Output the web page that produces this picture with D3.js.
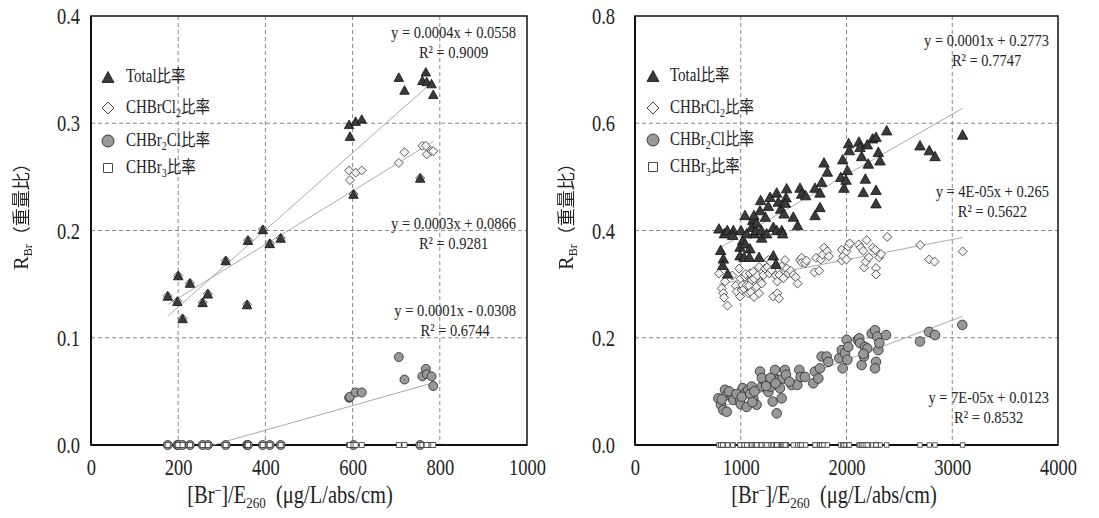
<!DOCTYPE html>
<html><head><meta charset="utf-8">
<script src="https://cdn.jsdelivr.net/npm/d3@7/dist/d3.min.js"></script>
<style>
html,body{margin:0;padding:0;background:#fff;}
svg{display:block;}
.ytitle{filter:grayscale(100%);}
</style></head>
<body>
<svg id="chart" width="1099" height="518"></svg>
<script>
// ---------------- DATA ----------------
const seriesNames = ["Total比率", "CHBrCl2比率", "CHBr2Cl比率", "CHBr3比率"];

// Left panel
const leftX        = [176,198,200,210,227,256,268,309,358,360,394,410,435,592,594,602,607,621,706,719,755,760,768,770,781,785];
const leftTotal    = [0.139,0.134,0.158,0.118,0.151,0.133,0.141,0.172,0.131,0.191,0.201,0.188,0.193,0.299,0.288,0.234,0.302,0.304,0.343,0.331,0.249,0.340,0.348,0.339,0.337,0.327];
const leftCHBrCl2  = [0.139,0.134,0.158,0.118,0.151,0.133,0.141,0.172,0.131,0.191,0.201,0.188,0.193,0.256,0.247,0.234,0.254,0.256,0.263,0.273,0.249,0.279,0.279,0.271,0.274,0.274];
const leftCHBr2Cl  = [0,0,0,0,0,0,0,0,0,0,0,0,0,0.044,0.045,0,0.049,0.049,0.082,0.061,0,0.064,0.071,0.066,0.064,0.055];
const leftCHBr3    = [0,0,0,0,0,0,0,0,0,0,0,0,0,0,0,0,0,0,0,0,0,0,0,0,0,0];
const leftXTicks   = [0,200,400,600,800,1000];
const leftYTicks   = [0,0.1,0.2,0.3,0.4];
// trendline end points [x0,y0,x1,y1]
const leftTrendTotal   = [176,0.120,785,0.339];
const leftTrendCHBrCl2 = [176,0.131,785,0.283];
const leftTrendCHBr2Cl = [280,0.000,785,0.058];
const leftEq = ["y = 0.0004x + 0.0558","y = 0.0003x + 0.0866","y = 0.0001x - 0.0308"];
const leftR2 = ["R² = 0.9009","R² = 0.9281","R² = 0.6744"];

// Right panel
const rightTotalX = [794,845,873,930,924,810,835,829,876,1002,1040,1018,993,1043,993,1031,1081,1087,1113,1125,1103,1128,1173,1144,1188,1182,1198,1195,1232,1261,1277,1308,1308,1333,1340,1355,1377,1340,1387,1396,1409,1434,1428,1422,1497,1538,1560,1576,1614,1702,1749,1702,1749,1765,1787,1819,1945,1964,1976,2008,1995,2020,2027,2118,2128,2143,2159,2178,2206,2247,2279,2197,2301,2317,2279,2279,2380,2695,2783,2837,3098,1056,1245,1150];
const rightTotalY = [0.404,0.395,0.401,0.401,0.392,0.364,0.348,0.336,0.320,0.401,0.429,0.382,0.370,0.376,0.354,0.351,0.351,0.367,0.420,0.429,0.407,0.395,0.351,0.401,0.457,0.438,0.387,0.401,0.426,0.446,0.463,0.407,0.354,0.338,0.471,0.454,0.441,0.401,0.401,0.395,0.432,0.479,0.462,0.452,0.426,0.410,0.480,0.469,0.466,0.429,0.444,0.480,0.471,0.491,0.527,0.510,0.500,0.533,0.480,0.513,0.495,0.563,0.550,0.566,0.556,0.539,0.472,0.497,0.525,0.572,0.575,0.561,0.547,0.531,0.476,0.451,0.587,0.559,0.550,0.539,0.579,0.395,0.395,0.415];
const rightCHBrCl2X = [794,820,835,842,851,874,921,953,961,984,993,1000,1009,1018,1032,1040,1047,1056,1072,1079,1087,1095,1103,1119,1126,1126,1150,1158,1173,1173,1189,1198,1214,1229,1252,1261,1270,1284,1292,1308,1331,1346,1346,1362,1365,1387,1403,1418,1434,1450,1473,1497,1520,1538,1560,1576,1576,1608,1621,1697,1712,1742,1758,1773,1788,1818,1833,1955,1955,1970,2000,2000,2015,2030,2115,2136,2158,2167,2182,2191,2212,2248,2273,2279,2279,2309,2327,2385,2697,2782,2833,3098];
const rightCHBrCl2Y = [0.320,0.292,0.283,0.275,0.305,0.260,0.316,0.297,0.286,0.329,0.277,0.310,0.289,0.298,0.291,0.314,0.319,0.298,0.283,0.297,0.320,0.285,0.308,0.323,0.310,0.276,0.295,0.316,0.283,0.332,0.304,0.301,0.317,0.329,0.332,0.345,0.320,0.341,0.326,0.277,0.316,0.283,0.305,0.273,0.317,0.333,0.311,0.345,0.329,0.320,0.325,0.317,0.313,0.301,0.345,0.349,0.340,0.339,0.344,0.322,0.349,0.325,0.346,0.355,0.368,0.361,0.352,0.344,0.364,0.352,0.361,0.346,0.370,0.376,0.374,0.368,0.362,0.331,0.342,0.382,0.350,0.368,0.364,0.330,0.318,0.350,0.356,0.388,0.373,0.346,0.342,0.361];
const rightCHBr2ClX = [788,813,835,867,851,867,914,930,993,1000,1018,1040,1056,1072,1103,1119,1150,1182,1198,1220,1245,1261,1283,1302,1308,1324,1340,1355,1371,1387,1396,1418,1428,1482,1535,1554,1566,1607,1686,1702,1734,1749,1765,1812,1828,1932,1955,1964,1986,2002,2008,2017,2106,2121,2128,2143,2165,2175,2197,2238,2270,2279,2270,2291,2301,2310,2374,2695,2780,2837,3095,820,890,960,1010,1090,1130,1200,1240,1280,1330,1460,1110,2160];
const rightCHBr2ClY = [0.087,0.075,0.065,0.062,0.103,0.093,0.093,0.084,0.084,0.076,0.106,0.096,0.071,0.103,0.109,0.087,0.075,0.137,0.109,0.121,0.121,0.099,0.109,0.081,0.127,0.140,0.059,0.121,0.106,0.087,0.124,0.140,0.131,0.112,0.112,0.140,0.127,0.127,0.115,0.137,0.124,0.143,0.165,0.165,0.155,0.162,0.177,0.143,0.171,0.196,0.159,0.183,0.196,0.199,0.190,0.149,0.165,0.183,0.180,0.208,0.214,0.155,0.143,0.202,0.177,0.190,0.205,0.193,0.211,0.205,0.224,0.085,0.100,0.095,0.090,0.095,0.100,0.125,0.110,0.125,0.115,0.118,0.080,0.170];
const rightCHBr3X = rightTotalX;
const rightCHBr3Y = rightTotalX.map(() => 0);
const rightXTicks = [0,1000,2000,3000,4000];
const rightYTicks = [0,0.2,0.4,0.6,0.8];
const rightTrendTotal   = [794,0.367,3098,0.628];
const rightTrendCHBrCl2 = [794,0.300,3098,0.387];
const rightTrendCHBr2Cl = [794,0.069,3098,0.240];
const rightEq = ["y = 0.0001x + 0.2773","y = 4E-05x + 0.265","y = 7E-05x + 0.0123"];
const rightR2 = ["R² = 0.7747","R² = 0.5622","R² = 0.8532"];

// ---------------- DRAWING ----------------
const SY = 1.2;            // vertical stretch of the glyphs
const SERIF = "'Liberation Serif','Times New Roman',serif";
const CJK = "'Noto Sans CJK JP','Noto Sans CJK SC',sans-serif";
const svg = d3.select("#chart");

function triPath(w,h){ return `M0,${-h/2}L${w/2},${h/2}L${-w/2},${h/2}Z`; }
function diaPath(w,h){ return `M0,${-h/2}L${w/2},0L0,${h/2}L${-w/2},0Z`; }
function sqPath(s){ return `M${-s/2},${-s/2}h${s}v${s}h${-s}Z`; }

const styles = {
  tri: {fill:"#3a3a3a", stroke:"#111", sw:0.8},
  dia: {fill:"#f2f2f2", stroke:"#333", sw:0.8},
  cir: {fill:"#989898", stroke:"#2a2a2a", sw:0.8},
  sq:  {fill:"#ffffff", stroke:"#333", sw:0.8}
};

function stretchedText(g, x, y, anchor, size){
  return g.append("text")
    .attr("transform", `translate(${x},${y}) scale(1,${SY})`)
    .attr("text-anchor", anchor)
    .style("font-family", SERIF)
    .style("font-size", size + "px")
    .attr("fill", "#222");
}

function drawPanel(cfg){
  const g = svg.append("g");
  const x = d3.scaleLinear().domain(cfg.xDomain).range([cfg.left, cfg.right]);
  const y = d3.scaleLinear().domain(cfg.yDomain).range([cfg.bottom, cfg.top]);

  // gridlines
  g.append("g").selectAll("line").data(cfg.xTicks.slice(1,-1)).join("line")
    .attr("x1", d=>x(d)).attr("x2", d=>x(d)).attr("y1", cfg.top).attr("y2", cfg.bottom)
    .attr("stroke","#7a7a7a").attr("stroke-width",0.9).attr("stroke-dasharray","4,3");
  g.append("g").selectAll("line").data(cfg.yTicks.slice(1,-1)).join("line")
    .attr("y1", d=>y(d)).attr("y2", d=>y(d)).attr("x1", cfg.left).attr("x2", cfg.right)
    .attr("stroke","#7a7a7a").attr("stroke-width",0.9).attr("stroke-dasharray","4,3");

  // border
  g.append("rect").attr("x",cfg.left).attr("y",cfg.top)
    .attr("width",cfg.right-cfg.left).attr("height",cfg.bottom-cfg.top)
    .attr("fill","none").attr("stroke","#111").attr("stroke-width",1.5);
  g.append("line").attr("x1",cfg.left).attr("x2",cfg.right).attr("y1",cfg.bottom).attr("y2",cfg.bottom)
    .attr("stroke","#111").attr("stroke-width",2.2);
  g.append("line").attr("x1",cfg.left).attr("x2",cfg.left).attr("y1",cfg.top).attr("y2",cfg.bottom)
    .attr("stroke","#111").attr("stroke-width",2);

  // axes (labels only)
  const xa = g.append("g").attr("transform",`translate(0,${cfg.bottom})`)
    .call(d3.axisBottom(x).tickValues(cfg.xTicks).tickSize(0).tickFormat(d3.format("d")));
  xa.select(".domain").remove();
  xa.selectAll("text").attr("y",0).attr("dy",0)
    .attr("transform",`translate(0,30) scale(1,${SY})`)
    .style("font-family",SERIF).style("font-size","18.5px").attr("fill","#222");
  const ya = g.append("g").attr("transform",`translate(${cfg.left},0)`)
    .call(d3.axisLeft(y).tickValues(cfg.yTicks).tickSize(0).tickFormat(d3.format(".1f")));
  ya.select(".domain").remove();
  ya.selectAll("text").attr("x",0).attr("dy",0)
    .attr("transform",`translate(${-cfg.yLabelGap},7.5) scale(1,${SY})`)
    .style("font-family",SERIF).style("font-size","18.5px").attr("fill","#222");

  // trendlines
  cfg.trends.forEach(t=>{
    g.append("line").attr("x1",x(t[0])).attr("y1",y(t[1])).attr("x2",x(t[2])).attr("y2",y(t[3]))
      .attr("stroke","#aaaaaa").attr("stroke-width",1);
  });

  // markers
  const m = cfg.marker;
  function pts(xs, ys){ return xs.map((v,i)=>[v, ys[i]]); }
  g.append("g").selectAll("path").data(pts(cfg.s2x, cfg.s2y)).join("path")
    .attr("d", diaPath(m.dia, m.dia)).attr("transform", d=>`translate(${x(d[0])},${y(d[1])})`)
    .attr("fill",styles.dia.fill).attr("stroke",styles.dia.stroke).attr("stroke-width",styles.dia.sw);
  g.append("g").selectAll("path").data(pts(cfg.s1x, cfg.s1y)).join("path")
    .attr("d", triPath(m.tri, m.tri*0.9)).attr("transform", d=>`translate(${x(d[0])},${y(d[1])})`)
    .attr("fill",styles.tri.fill).attr("stroke",styles.tri.stroke).attr("stroke-width",styles.tri.sw);
  g.append("g").selectAll("circle").data(pts(cfg.s3x, cfg.s3y)).join("circle")
    .attr("cx", d=>x(d[0])).attr("cy", d=>y(d[1])).attr("r", m.cir)
    .attr("fill",styles.cir.fill).attr("stroke",styles.cir.stroke).attr("stroke-width",styles.cir.sw);
  g.append("g").selectAll("path").data(pts(cfg.s4x, cfg.s4y)).join("path")
    .attr("d", sqPath(m.sq)).attr("transform", d=>`translate(${x(d[0])},${y(d[1])})`)
    .attr("fill",styles.sq.fill).attr("stroke",styles.sq.stroke).attr("stroke-width",styles.sq.sw);

  // legend
  const L = cfg.legend;
  const lg = g.append("g");
  lg.append("path").attr("d", triPath(12,11)).attr("transform",`translate(${L.mx},${L.rows[0]})`)
    .attr("fill",styles.tri.fill).attr("stroke",styles.tri.stroke).attr("stroke-width",0.8);
  lg.append("path").attr("d", diaPath(12,12)).attr("transform",`translate(${L.mx},${L.rows[1]})`)
    .attr("fill",styles.dia.fill).attr("stroke",styles.dia.stroke).attr("stroke-width",0.9);
  lg.append("circle").attr("cx",L.mx).attr("cy",L.rows[2]).attr("r",6)
    .attr("fill",styles.cir.fill).attr("stroke",styles.cir.stroke).attr("stroke-width",0.9);
  lg.append("path").attr("d", sqPath(9)).attr("transform",`translate(${L.mx},${L.rows[3]})`)
    .attr("fill",styles.sq.fill).attr("stroke",styles.sq.stroke).attr("stroke-width",0.9);
  const labels = [["Total",null,""],["CHBrCl","2",""],["CHBr","2","Cl"],["CHBr","3",""]];
  labels.forEach((lab,i)=>{
    const t = stretchedText(lg, L.tx, L.rows[i]+5, "start", 15);
    t.append("tspan").text(lab[0]);
    let shifted = false;
    if (lab[1]){ t.append("tspan").attr("dy",3).style("font-size","10px").text(lab[1]); shifted = true; }
    if (lab[2]){ t.append("tspan").attr("dy",shifted?-3:0).text(lab[2]); shifted = false; }
    t.append("tspan").attr("dy",shifted?-3:0).style("font-family",CJK).style("font-size","14.5px").text("比率");
  });

  // equations
  cfg.eqs.forEach((e,i)=>{
    const t = stretchedText(g, cfg.eqRight, e.y+4, "end", 14.5).text(cfg.eqText[i]);
    const bb = t.node().getBBox();
    const cx = cfg.eqRight - bb.width/2;
    stretchedText(g, cx, e.y2+5.5, "middle", 14.5).text(cfg.r2Text[i]);
  });

  // x title
  const xt = stretchedText(g, cfg.xTitleX, 503, "middle", 20.5);
  xt.append("tspan").text("[Br");
  xt.append("tspan").attr("dy",-7).style("font-size","12px").text("−");
  xt.append("tspan").attr("dy",7).text("]/E");
  xt.append("tspan").attr("dy",4).style("font-size","13px").text("260");
  xt.append("tspan").attr("dy",-4).text("\u00a0\u00a0(μg/L/abs/cm)");

  // y title
  const yt = svg.append("text").attr("class","ytitle")
    .attr("transform",`translate(${cfg.yTitleX},${212}) rotate(-90)`)
    .attr("text-anchor","middle").attr("fill","#222")
    .style("font-family",SERIF).style("font-size","20px");
  yt.append("tspan").text("R");
  yt.append("tspan").attr("dy",4).style("font-size","12px").text("Br");
  yt.append("tspan").attr("dy",-4).style("font-family",CJK).style("font-size","18px").text("（重量比）");
}

drawPanel({
  left:91, right:527, top:16, bottom:445,
  xDomain:[0,1000], yDomain:[0,0.4], xTicks:leftXTicks, yTicks:leftYTicks, yLabelGap:11,
  s1x:leftX, s1y:leftTotal, s2x:leftX, s2y:leftCHBrCl2, s3x:leftX, s3y:leftCHBr2Cl, s4x:leftX, s4y:leftCHBr3,
  trends:[leftTrendTotal, leftTrendCHBrCl2, leftTrendCHBr2Cl],
  marker:{tri:9.5, dia:9, cir:4.5, sq:5},
  legend:{mx:108, tx:126, rows:[77,108,141,168]},
  eqRight:516, eqText:leftEq, r2Text:leftR2,
  eqs:[{y:34,y2:52},{y:225,y2:243},{y:312,y2:330}],
  xTitleX:290, yTitleX:28
});
drawPanel({
  left:635, right:1058, top:16, bottom:445,
  xDomain:[0,4000], yDomain:[0,0.8], xTicks:rightXTicks, yTicks:rightYTicks, yLabelGap:20,
  s1x:rightTotalX, s1y:rightTotalY, s2x:rightCHBrCl2X, s2y:rightCHBrCl2Y, s3x:rightCHBr2ClX, s3y:rightCHBr2ClY, s4x:rightCHBr3X, s4y:rightCHBr3Y,
  trends:[rightTrendTotal, rightTrendCHBrCl2, rightTrendCHBr2Cl],
  marker:{tri:10.5, dia:9, cir:4.8, sq:4.5},
  legend:{mx:653, tx:670, rows:[76,108,140,167]},
  eqRight:1049, eqText:rightEq, r2Text:rightR2,
  eqs:[{y:42,y2:60},{y:193,y2:211},{y:399,y2:417}],
  xTitleX:834, yTitleX:573
});
</script>
</body></html>
